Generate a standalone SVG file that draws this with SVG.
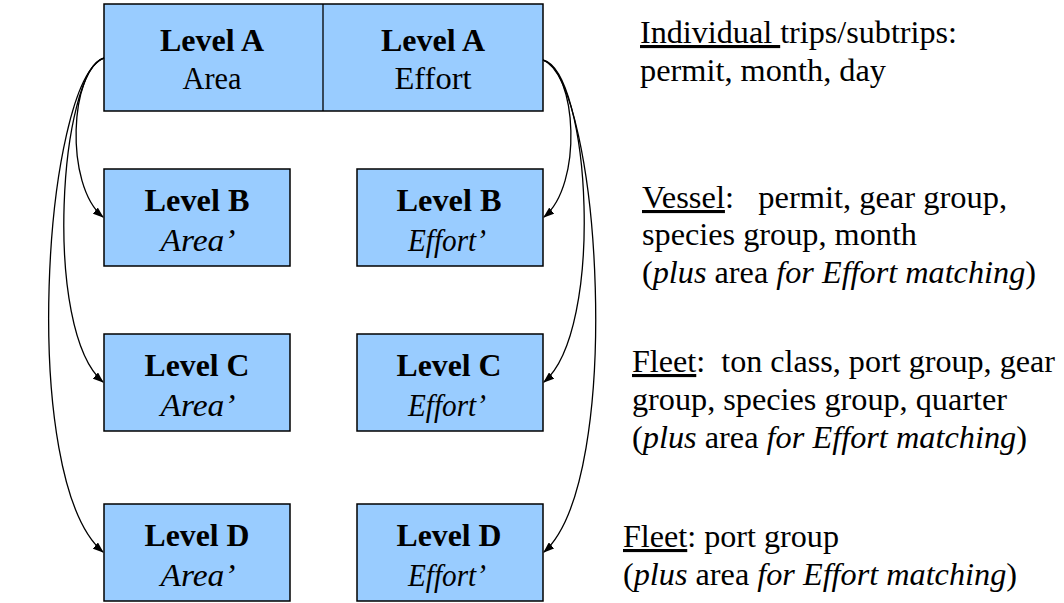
<svg xmlns="http://www.w3.org/2000/svg" width="1064" height="603" viewBox="0 0 1064 603" font-family="Liberation Serif, Times New Roman, serif" font-size="31">
<style>
.box{fill:#99ccff;stroke:#000;stroke-width:1.5}
.b{font-weight:bold}
.i{font-style:italic}
.c{text-anchor:middle}
.u{text-decoration:underline}
.conn{fill:none;stroke:#000;stroke-width:1.3}
text{fill:#000}
</style>
<defs>
<marker id="ah" markerWidth="11" markerHeight="8" refX="10" refY="4" orient="auto" markerUnits="userSpaceOnUse">
<path d="M0,0 L11,4 L0,8 z" fill="#000"/>
</marker>
</defs>
<rect width="1064" height="603" fill="#fff"/>
<g id="levelA">
<rect class="box" x="104" y="4" width="439" height="107"/>
<line x1="323" y1="4" x2="323" y2="111" stroke="#000" stroke-width="1.3"/>
<text class="b c" x="212" y="51" textLength="104" lengthAdjust="spacingAndGlyphs">Level A</text>
<text class="c" x="212" y="89" textLength="59" lengthAdjust="spacingAndGlyphs">Area</text>
<text class="b c" x="433" y="51" textLength="104" lengthAdjust="spacingAndGlyphs">Level A</text>
<text class="c" x="433" y="89" textLength="77" lengthAdjust="spacingAndGlyphs">Effort</text>
</g>
<g id="levelB-area">
<rect class="box" x="104" y="169" width="186" height="97"/>
<text class="b c" x="197" y="211" textLength="105" lengthAdjust="spacingAndGlyphs">Level B</text>
<text class="i c" x="198" y="251" textLength="75" lengthAdjust="spacingAndGlyphs">Area’</text>
</g>
<g id="levelB-effort">
<rect class="box" x="357" y="169" width="186" height="97"/>
<text class="b c" x="449" y="211" textLength="105" lengthAdjust="spacingAndGlyphs">Level B</text>
<text class="i c" x="447" y="251" textLength="78" lengthAdjust="spacingAndGlyphs">Effort’</text>
</g>
<g id="levelC-area">
<rect class="box" x="104" y="334" width="186" height="97"/>
<text class="b c" x="197" y="376" textLength="105" lengthAdjust="spacingAndGlyphs">Level C</text>
<text class="i c" x="198" y="416" textLength="75" lengthAdjust="spacingAndGlyphs">Area’</text>
</g>
<g id="levelC-effort">
<rect class="box" x="357" y="334" width="186" height="97"/>
<text class="b c" x="449" y="376" textLength="105" lengthAdjust="spacingAndGlyphs">Level C</text>
<text class="i c" x="447" y="416" textLength="78" lengthAdjust="spacingAndGlyphs">Effort’</text>
</g>
<g id="levelD-area">
<rect class="box" x="104" y="504" width="186" height="97"/>
<text class="b c" x="197" y="546" textLength="105" lengthAdjust="spacingAndGlyphs">Level D</text>
<text class="i c" x="198" y="586" textLength="75" lengthAdjust="spacingAndGlyphs">Area’</text>
</g>
<g id="levelD-effort">
<rect class="box" x="357" y="504" width="186" height="97"/>
<text class="b c" x="449" y="546" textLength="105" lengthAdjust="spacingAndGlyphs">Level D</text>
<text class="i c" x="447" y="586" textLength="78" lengthAdjust="spacingAndGlyphs">Effort’</text>
</g>
<g id="connectors">
<path class="conn" d="M104,58 C70,70 64,185 103,217" marker-end="url(#ah)"/>
<path class="conn" d="M104,58 C60,70 42,330 103,382" marker-end="url(#ah)"/>
<path class="conn" d="M104,58 C44,80 18,480 103,552" marker-end="url(#ah)"/>
<path class="conn" d="M543,60 C577,72 583,185 544,217" marker-end="url(#ah)"/>
<path class="conn" d="M543,60 C590,72 605,330 544,382" marker-end="url(#ah)"/>
<path class="conn" d="M543,60 C600,82 625,480 544,552" marker-end="url(#ah)"/>
</g>
<g id="notes">
<text x="640" y="43" xml:space="preserve" textLength="317" lengthAdjust="spacingAndGlyphs"><tspan class="u">Individual </tspan>trips/subtrips:</text>
<text x="640" y="81" textLength="246" lengthAdjust="spacingAndGlyphs">permit, month, day</text>
<text x="642" y="208" xml:space="preserve" textLength="365" lengthAdjust="spacingAndGlyphs"><tspan class="u">Vessel</tspan>:   permit, gear group,</text>
<text x="642" y="245" textLength="275" lengthAdjust="spacingAndGlyphs">species group, month</text>
<text x="642" y="283" xml:space="preserve" textLength="394" lengthAdjust="spacingAndGlyphs">(<tspan class="i">plus</tspan> area <tspan class="i">for Effort matching</tspan>)</text>
<text x="632" y="372" xml:space="preserve" textLength="423" lengthAdjust="spacingAndGlyphs"><tspan class="u">Fleet</tspan>:  ton class, port group, gear</text>
<text x="632" y="410" textLength="375" lengthAdjust="spacingAndGlyphs">group, species group, quarter</text>
<text x="632" y="448" xml:space="preserve" textLength="395" lengthAdjust="spacingAndGlyphs">(<tspan class="i">plus</tspan> area <tspan class="i">for Effort matching</tspan>)</text>
<text x="623" y="547" xml:space="preserve" textLength="216" lengthAdjust="spacingAndGlyphs"><tspan class="u">Fleet</tspan>: port group</text>
<text x="623" y="585" xml:space="preserve" textLength="394" lengthAdjust="spacingAndGlyphs">(<tspan class="i">plus</tspan> area <tspan class="i">for Effort matching</tspan>)</text>
</g>
</svg>
